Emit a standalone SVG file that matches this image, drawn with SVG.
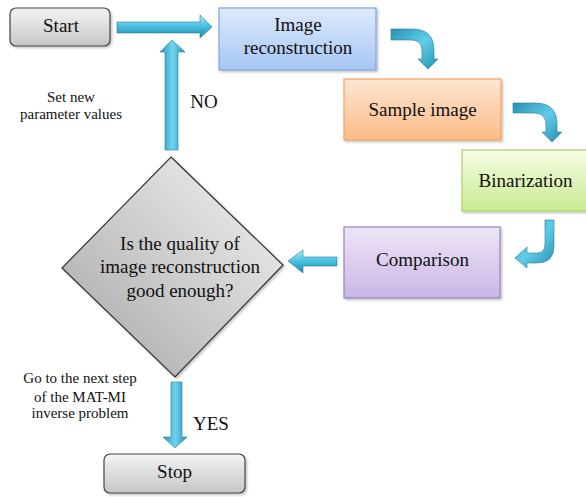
<svg xmlns="http://www.w3.org/2000/svg" width="586" height="497" viewBox="0 0 586 497">
<defs>
<linearGradient id="gGray" x1="0" y1="0" x2="0" y2="1"><stop offset="0" stop-color="#f4f4f4"/><stop offset="1" stop-color="#c6c6c6"/></linearGradient>
<linearGradient id="gDiam" x1="1" y1="0" x2="0" y2="1"><stop offset="0" stop-color="#f4f4f4"/><stop offset="1" stop-color="#a6a6a6"/></linearGradient>
<linearGradient id="gBlue" x1="0" y1="0" x2="0" y2="1"><stop offset="0" stop-color="#dde9fb"/><stop offset="1" stop-color="#a6c7f4"/></linearGradient>
<linearGradient id="gOrange" x1="0" y1="0" x2="0" y2="1"><stop offset="0" stop-color="#fde6d3"/><stop offset="1" stop-color="#fbbb86"/></linearGradient>
<linearGradient id="gGreen" x1="0" y1="0" x2="0" y2="1"><stop offset="0" stop-color="#f5fce4"/><stop offset="1" stop-color="#c9eb92"/></linearGradient>
<linearGradient id="gPurple" x1="0" y1="0" x2="0" y2="1"><stop offset="0" stop-color="#eee5f7"/><stop offset="1" stop-color="#c9b6e5"/></linearGradient>
<linearGradient id="gArrH" x1="0" y1="0" x2="0" y2="1"><stop offset="0" stop-color="#b6ecf8"/><stop offset="0.45" stop-color="#4cc3e2"/><stop offset="1" stop-color="#2386ab"/></linearGradient>
<linearGradient id="gArrV" x1="0" y1="0" x2="1" y2="0"><stop offset="0" stop-color="#2a93b8"/><stop offset="0.5" stop-color="#6fd5ef"/><stop offset="1" stop-color="#2a93b8"/></linearGradient>
<linearGradient id="gHook" x1="0" y1="0" x2="1" y2="1"><stop offset="0" stop-color="#2a8fb4"/><stop offset="0.5" stop-color="#5fcde9"/><stop offset="1" stop-color="#2a8fb4"/></linearGradient>
<filter id="sh" x="-10%" y="-10%" width="130%" height="130%"><feDropShadow dx="1.5" dy="1.5" stdDeviation="1.2" flood-color="#000" flood-opacity="0.25"/></filter>
</defs>
<style>
text{font-family:'Liberation Serif','DejaVu Serif',serif;fill:#111;text-anchor:middle}
.t{font-size:19px}
.s{font-size:15px}
.arr{stroke:#1e7fa0;stroke-width:0.6}
</style>
<rect width="586" height="497" fill="#fff"/>
<g id="connectors">
<path class="arr" fill="url(#gArrH)" d="M117,22 L200,22 L200,15 L212,27 L200,38 L200,33 L117,33 Z"/>
<path class="arr" fill="url(#gArrV)" d="M165,150 L165,52 L160,52 L172,40 L185,52 L178,52 L178,150 Z"/>
<path class="arr" fill="url(#gHook)" d="M391,29 L412,29 Q434,29 434,50 L434,59 L438,59 L428,69 L418,59 L422,59 L422,51 Q422,40 411,40 L391,40 Z"/>
<path class="arr" fill="url(#gHook)" d="M513,103 L535,103 Q557,103 557,124 L557,132 L562,132 L552,142 L542,132 L546,132 L546,125 Q546,113 534,113 L513,113 Z"/>
<path class="arr" fill="url(#gHook)" d="M545,220 L554,220 L554,246 Q554,263 537,263 L527,263 L527,268 L515,258 L527,247 L527,253 L537,253 Q545,253 545,244 Z"/>
<path class="arr" fill="url(#gArrH)" d="M337,257 L303,257 L303,250 L288,261 L303,273 L303,266 L337,266 Z"/>
<path class="arr" fill="url(#gArrV)" d="M171,382 L182,382 L182,437 L187,437 L175,448 L163,437 L171,437 Z"/>
</g>
<g id="start"><rect x="10" y="8" width="100" height="38" rx="6" fill="url(#gGray)" stroke="#444" stroke-width="1.2" filter="url(#sh)"/><text class="t" x="61" y="32" font-family="Liberation Serif, serif">Start</text></g>
<g id="image-reconstruction"><rect x="219" y="8" width="157" height="62" fill="url(#gBlue)" stroke="#7ea6dc" stroke-width="1.2" filter="url(#sh)"/><text class="t" x="298" y="31">Image</text><text class="t" x="298" y="54">reconstruction</text></g>
<g id="sample-image"><rect x="344" y="79" width="157" height="61" fill="url(#gOrange)" stroke="#f5a462" stroke-width="1.2" filter="url(#sh)"/><text class="t" x="422.5" y="116">Sample image</text></g>
<g id="binarization"><rect x="462" y="150" width="126" height="61" fill="url(#gGreen)" stroke="#a8d468" stroke-width="1.2" filter="url(#sh)"/><text class="t" x="525.5" y="187">Binarization</text></g>
<g id="comparison"><rect x="344" y="227" width="156" height="71" fill="url(#gPurple)" stroke="#9b80c2" stroke-width="1.2" filter="url(#sh)"/><text class="t" x="422.5" y="266">Comparison</text></g>
<g id="decision"><path d="M171,157 L283,265 L175,377 L62,268 Z" fill="url(#gDiam)" stroke="#333" stroke-width="1.2" filter="url(#sh)"/><text class="t" x="180" y="250">Is the quality of</text><text class="t" x="180" y="273">image reconstruction</text><text class="t" x="180" y="297">good enough?</text></g>
<g id="stop"><rect x="104" y="454" width="141" height="39" rx="6" fill="url(#gGray)" stroke="#444" stroke-width="1.2" filter="url(#sh)"/><text class="t" x="174.5" y="478">Stop</text></g>
<g id="labels">
<text class="s" x="71" y="102">Set new</text>
<text class="s" x="71" y="119">parameter values</text>
<text class="t" x="204" y="108">NO</text>
<text class="s" x="80" y="383">Go to the next step</text>
<text class="s" x="80" y="402">of the MAT-MI</text>
<text class="s" x="80" y="418">inverse problem</text>
<text class="t" x="211" y="430">YES</text>
</g>
</svg>
